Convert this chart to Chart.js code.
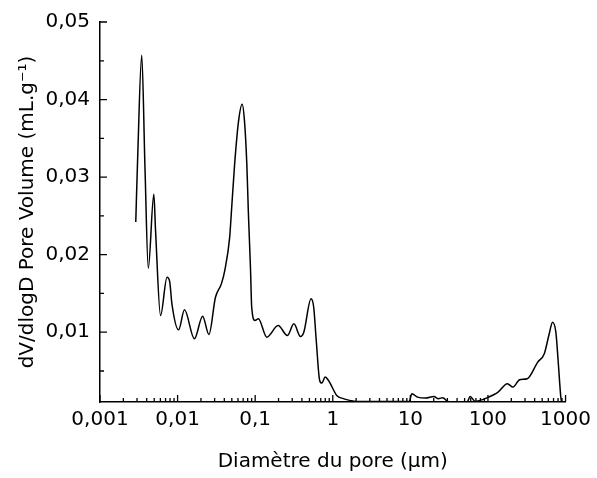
<!DOCTYPE html>
<html>
<head>
<meta charset="utf-8">
<script src="https://cdn.jsdelivr.net/npm/chart.js@4/dist/chart.umd.min.js"></script>
<style>
  html, body { margin: 0; padding: 0; background: #fff; }
  #wrap { width: 597px; height: 478px; }
</style>
</head>
<body>
<div id="wrap"><canvas id="c" width="597" height="478"></canvas></div>
<script>
// Pore diameter (µm)
const diameters = [
  0.00289, 0.00305, 0.00345, 0.00380, 0.00419, 0.00494, 0.00520, 0.00603,
  0.00731, 0.00791, 0.00845, 0.01030, 0.01227, 0.01648, 0.02101, 0.02535,
  0.03076, 0.03667, 0.04054, 0.04690, 0.04921, 0.05433, 0.0611, 0.0679,
  0.0728, 0.0780, 0.0818, 0.0869, 0.0902, 0.0994, 0.1099, 0.1413,
  0.1976, 0.2597, 0.3157, 0.3830, 0.4233, 0.5248, 0.5678, 0.6124,
  0.6777, 0.7247, 0.7980, 0.8812, 1.125, 1.368, 1.660, 2.0,
  3.0, 5.0, 8.0, 9.66, 10.45, 12.36, 15.74, 20.1,
  22.9, 26.2, 29.8, 32.8, 45.0, 54.1, 59.0, 68.3,
  79.0, 91.6, 135, 178, 210, 256, 321, 438,
  532, 616, 680, 750, 802, 869, 889
];
// dV/dlogD pore volume (mL/g)
const volumes = [
  0.0242, 0.0321, 0.0457, 0.0312, 0.01824, 0.02779, 0.0231, 0.01215,
  0.01708, 0.01653, 0.01366, 0.01031, 0.01288, 0.00915, 0.01206, 0.00970,
  0.01450, 0.01623, 0.01794, 0.02223, 0.02528, 0.03167, 0.03725, 0.03940,
  0.03725, 0.03171, 0.02528, 0.01837, 0.01322, 0.01151, 0.01172, 0.00936,
  0.01086, 0.00958, 0.01108, 0.00945, 0.01000, 0.01430, 0.01322, 0.00893,
  0.00378, 0.00344, 0.00421, 0.00378, 0.00185, 0.00143, 0.00121, 0.00106,
  0.00105, 0.00105, 0.00106, 0.00105, 0.00207, 0.00163, 0.00150, 0.00172,
  0.00143, 0.00156, 0.00112, 0.00104, 0.00104, 0.00104, 0.00172, 0.00108,
  0.00121, 0.00143, 0.00228, 0.00336, 0.00292, 0.00387, 0.00400, 0.00614,
  0.00722, 0.00980, 0.01129, 0.01000, 0.00636, 0.00163, 0.00100
];
const xTickValues = [0.001, 0.01, 0.1, 1, 10, 100, 1000];
const xTickLabels = ['0,001', '0,01', '0,1', '1', '10', '100', '1000'];
const yTickValues = [0.01, 0.02, 0.03, 0.04, 0.05];
const yTickLabels = ['0,01', '0,02', '0,03', '0,04', '0,05'];
const yMinorValues = [0.005, 0.015, 0.025, 0.035, 0.045];

const FONT = '"DejaVu Sans"';

const inwardTicks = {
  id: 'inwardTicks',
  afterDatasetsDraw(chart) {
    const ctx = chart.ctx;
    const xs = chart.scales.x, ys = chart.scales.y;
    const left = chart.chartArea.left, bottom = chart.chartArea.bottom;
    ctx.save();
    ctx.strokeStyle = '#000';
    ctx.lineWidth = 1.3;
    ctx.beginPath();
    for (let d = -3; d <= 3; d++) {
      const v = Math.pow(10, d);
      const px = xs.getPixelForValue(v);
      ctx.moveTo(px, bottom); ctx.lineTo(px, bottom - 7);
      if (d < 3) {
        for (let k = 2; k <= 9; k++) {
          const p = xs.getPixelForValue(k * v);
          ctx.moveTo(p, bottom); ctx.lineTo(p, bottom - 4);
        }
      }
    }
    yTickValues.forEach(v => {
      const py = ys.getPixelForValue(v);
      ctx.moveTo(left, py); ctx.lineTo(left + 7, py);
    });
    yMinorValues.forEach(v => {
      const py = ys.getPixelForValue(v);
      ctx.moveTo(left, py); ctx.lineTo(left + 4, py);
    });
    ctx.stroke();
    ctx.restore();
  }
};

new Chart(document.getElementById('c'), {
  type: 'line',
  data: {
    datasets: [{
      data: diameters.map((d, i) => ({ x: d, y: volumes[i] })),
      borderColor: '#000',
      borderWidth: 1.5,
      pointRadius: 0,
      fill: false,
      cubicInterpolationMode: 'monotone'
    }]
  },
  options: {
    responsive: false,
    animation: false,
    layout: { padding: { left: 0, right: 25, top: 21, bottom: 0 } },
    plugins: { legend: { display: false }, tooltip: { enabled: false } },
    scales: {
      x: {
        type: 'logarithmic',
        min: 0.001, max: 1000,
        afterBuildTicks: s => { s.ticks = xTickValues.map(v => ({ value: v })); },
        afterFit: s => { s.height = 76; },
        ticks: {
          autoSkip: false, maxRotation: 0,
          color: '#000', padding: 6,
          font: { family: FONT, size: 20 },
          callback: (v, i) => xTickLabels[i]
        },
        grid: { display: true, drawOnChartArea: false, drawTicks: false },
        border: { display: true, color: '#000', width: 1.5 },
        title: {
          display: true, text: 'Diamètre du pore (µm)', color: '#000',
          font: { family: FONT, size: 20 }, padding: { top: 8, bottom: 4 }
        }
      },
      y: {
        type: 'linear',
        min: 0.001, max: 0.05,
        afterBuildTicks: s => { s.ticks = yTickValues.map(v => ({ value: v })); },
        afterFit: s => { s.width = 100; },
        ticks: {
          autoSkip: false,
          color: '#000', padding: 10,
          font: { family: FONT, size: 20 },
          callback: (v, i) => yTickLabels[i]
        },
        grid: { display: true, drawOnChartArea: false, drawTicks: false },
        border: { display: true, color: '#000', width: 1.5 },
        title: {
          display: true, text: 'dV/dlogD Pore Volume (mL.g⁻¹)', color: '#000',
          font: { family: FONT, size: 20 }, padding: { top: 16, bottom: 0 }
        }
      }
    }
  },
  plugins: [inwardTicks]
});
</script>
</body>
</html>
